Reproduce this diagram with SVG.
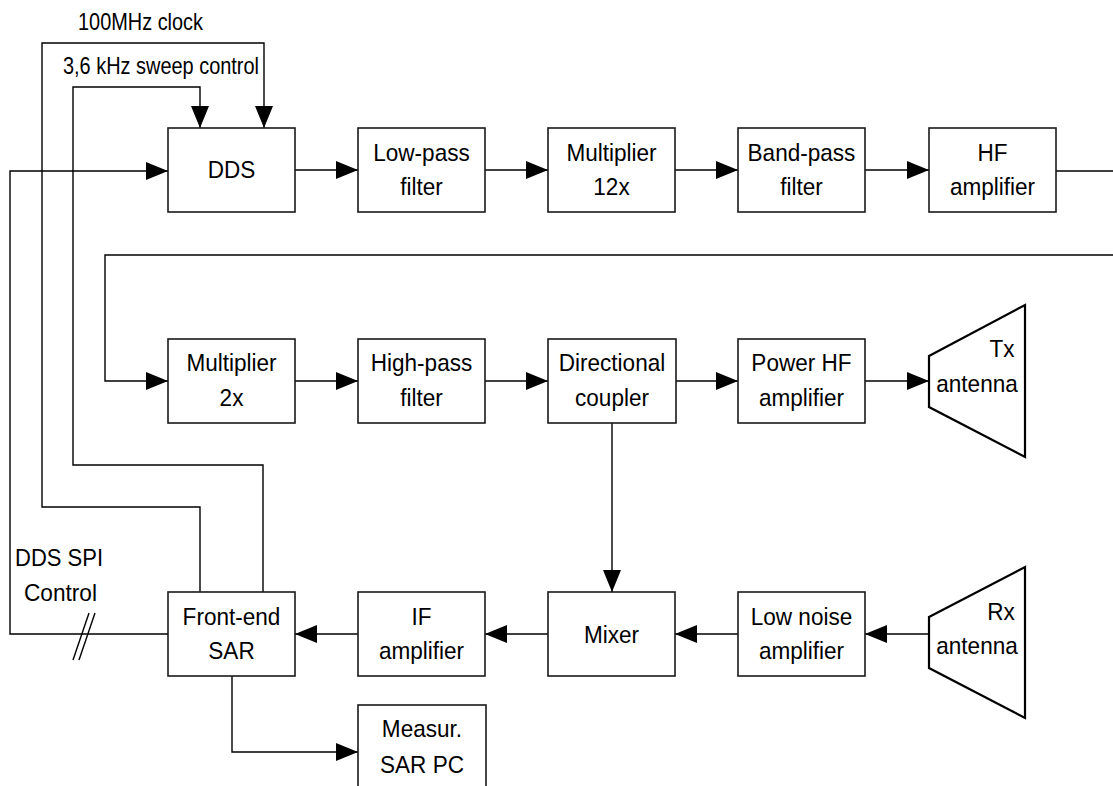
<svg xmlns="http://www.w3.org/2000/svg" width="1113" height="786" viewBox="0 0 1113 786">
<defs>
<style>
.box{fill:#fff;stroke:#1a1a1a;stroke-width:1.6}
.ant{fill:#fff;stroke:#000;stroke-width:2.2}
.ln{fill:none;stroke:#000;stroke-width:1.4}
.t{font-family:"Liberation Sans",Arial,sans-serif;font-size:24px;fill:#000;text-anchor:middle;transform-box:fill-box;transform-origin:center;transform:scaleX(0.94)}
.tl{font-family:"Liberation Sans",Arial,sans-serif;font-size:24px;fill:#000}
</style>
<marker id="ah" markerUnits="userSpaceOnUse" markerWidth="22" markerHeight="18" refX="22" refY="9" orient="auto">
<path d="M0,0 L22,9 L0,18 Z" fill="#000"/>
</marker>
</defs>
<rect width="1113" height="786" fill="#fff"/>

<g id="connectors">
<line class="ln" x1="295" y1="170" x2="358" y2="170" marker-end="url(#ah)"/>
<line class="ln" x1="485" y1="170" x2="548" y2="170" marker-end="url(#ah)"/>
<line class="ln" x1="675" y1="170" x2="738" y2="170" marker-end="url(#ah)"/>
<line class="ln" x1="865" y1="170" x2="929" y2="170" marker-end="url(#ah)"/>
<line class="ln" x1="1056" y1="171" x2="1113" y2="171"/>
<polyline class="ln" points="1113,255 105,255 105,381 168,381" marker-end="url(#ah)"/>
<line class="ln" x1="295" y1="381" x2="358" y2="381" marker-end="url(#ah)"/>
<line class="ln" x1="485" y1="381" x2="548" y2="381" marker-end="url(#ah)"/>
<line class="ln" x1="676" y1="381" x2="738" y2="381" marker-end="url(#ah)"/>
<line class="ln" x1="865" y1="381" x2="929" y2="381" marker-end="url(#ah)"/>
<line class="ln" x1="612" y1="423" x2="612" y2="592" marker-end="url(#ah)"/>
<line class="ln" x1="929" y1="634" x2="865" y2="634" marker-end="url(#ah)"/>
<line class="ln" x1="738" y1="634" x2="675" y2="634" marker-end="url(#ah)"/>
<line class="ln" x1="548" y1="634" x2="485" y2="634" marker-end="url(#ah)"/>
<line class="ln" x1="358" y1="634" x2="295" y2="634" marker-end="url(#ah)"/>
<polyline class="ln" points="168,634 10,634 10,171 168,171" marker-end="url(#ah)"/>
<line class="ln" x1="73" y1="660" x2="89" y2="613"/>
<line class="ln" x1="79" y1="660" x2="95" y2="613"/>
<polyline class="ln" points="200,592 200,507 42,507 42,43 264,43 264,128" marker-end="url(#ah)"/>
<polyline class="ln" points="263,592 263,465 73,465 73,87 200,87 200,128" marker-end="url(#ah)"/>
<polyline class="ln" points="232,676 232,752 358,752" marker-end="url(#ah)"/>
</g>

<g id="labels">
<text class="tl" x="78" y="30" textLength="125" lengthAdjust="spacingAndGlyphs">100MHz clock</text>
<text class="tl" x="63" y="74" textLength="196" lengthAdjust="spacingAndGlyphs">3,6 kHz sweep control</text>
<text class="tl" x="15" y="566" textLength="88" lengthAdjust="spacingAndGlyphs">DDS SPI</text>
<text class="tl" x="24" y="601" textLength="73" lengthAdjust="spacingAndGlyphs">Control</text>
</g>

<g id="dds"><rect class="box" x="168" y="128" width="127" height="84"/><text class="t" x="231.5" y="178">DDS</text></g>
<g id="lowpass"><rect class="box" x="358" y="128" width="127" height="84"/><text class="t" x="421.5" y="161">Low-pass</text><text class="t" x="421.5" y="195">filter</text></g>
<g id="mult12"><rect class="box" x="548" y="128" width="127" height="84"/><text class="t" x="611.5" y="161">Multiplier</text><text class="t" x="611.5" y="195">12x</text></g>
<g id="bandpass"><rect class="box" x="738" y="128" width="127" height="84"/><text class="t" x="801.5" y="161">Band-pass</text><text class="t" x="801.5" y="195">filter</text></g>
<g id="hfamp"><rect class="box" x="929" y="128" width="127" height="84"/><text class="t" x="992.5" y="161">HF</text><text class="t" x="992.5" y="195">amplifier</text></g>

<g id="mult2"><rect class="box" x="168" y="339" width="127" height="84"/><text class="t" x="231.5" y="371">Multiplier</text><text class="t" x="231.5" y="406">2x</text></g>
<g id="highpass"><rect class="box" x="358" y="339" width="127" height="84"/><text class="t" x="421.5" y="371">High-pass</text><text class="t" x="421.5" y="406">filter</text></g>
<g id="coupler"><rect class="box" x="548" y="339" width="128" height="84"/><text class="t" x="612" y="371">Directional</text><text class="t" x="612" y="406">coupler</text></g>
<g id="powerhf"><rect class="box" x="738" y="339" width="127" height="84"/><text class="t" x="801.5" y="371">Power HF</text><text class="t" x="801.5" y="406">amplifier</text></g>
<g id="tx"><polygon class="ant" points="929,356 1025,305 1025,457 929,407"/><text class="t" x="1002" y="357">Tx</text><text class="t" x="977" y="392">antenna</text></g>

<g id="frontend"><rect class="box" x="168" y="592" width="127" height="84"/><text class="t" x="231.5" y="625">Front-end</text><text class="t" x="231.5" y="659">SAR</text></g>
<g id="ifamp"><rect class="box" x="358" y="592" width="127" height="84"/><text class="t" x="421.5" y="625">IF</text><text class="t" x="421.5" y="659">amplifier</text></g>
<g id="mixer"><rect class="box" x="548" y="592" width="127" height="84"/><text class="t" x="611.5" y="643">Mixer</text></g>
<g id="lna"><rect class="box" x="738" y="592" width="127" height="84"/><text class="t" x="801.5" y="625">Low noise</text><text class="t" x="801.5" y="659">amplifier</text></g>
<g id="rx"><polygon class="ant" points="929,617 1025,567 1025,718 929,668"/><text class="t" x="1001" y="620">Rx</text><text class="t" x="977" y="654">antenna</text></g>

<g id="measur"><rect class="box" x="358" y="705" width="128" height="100"/><text class="t" x="422" y="737">Measur.</text><text class="t" x="422" y="773">SAR PC</text></g>
</svg>
